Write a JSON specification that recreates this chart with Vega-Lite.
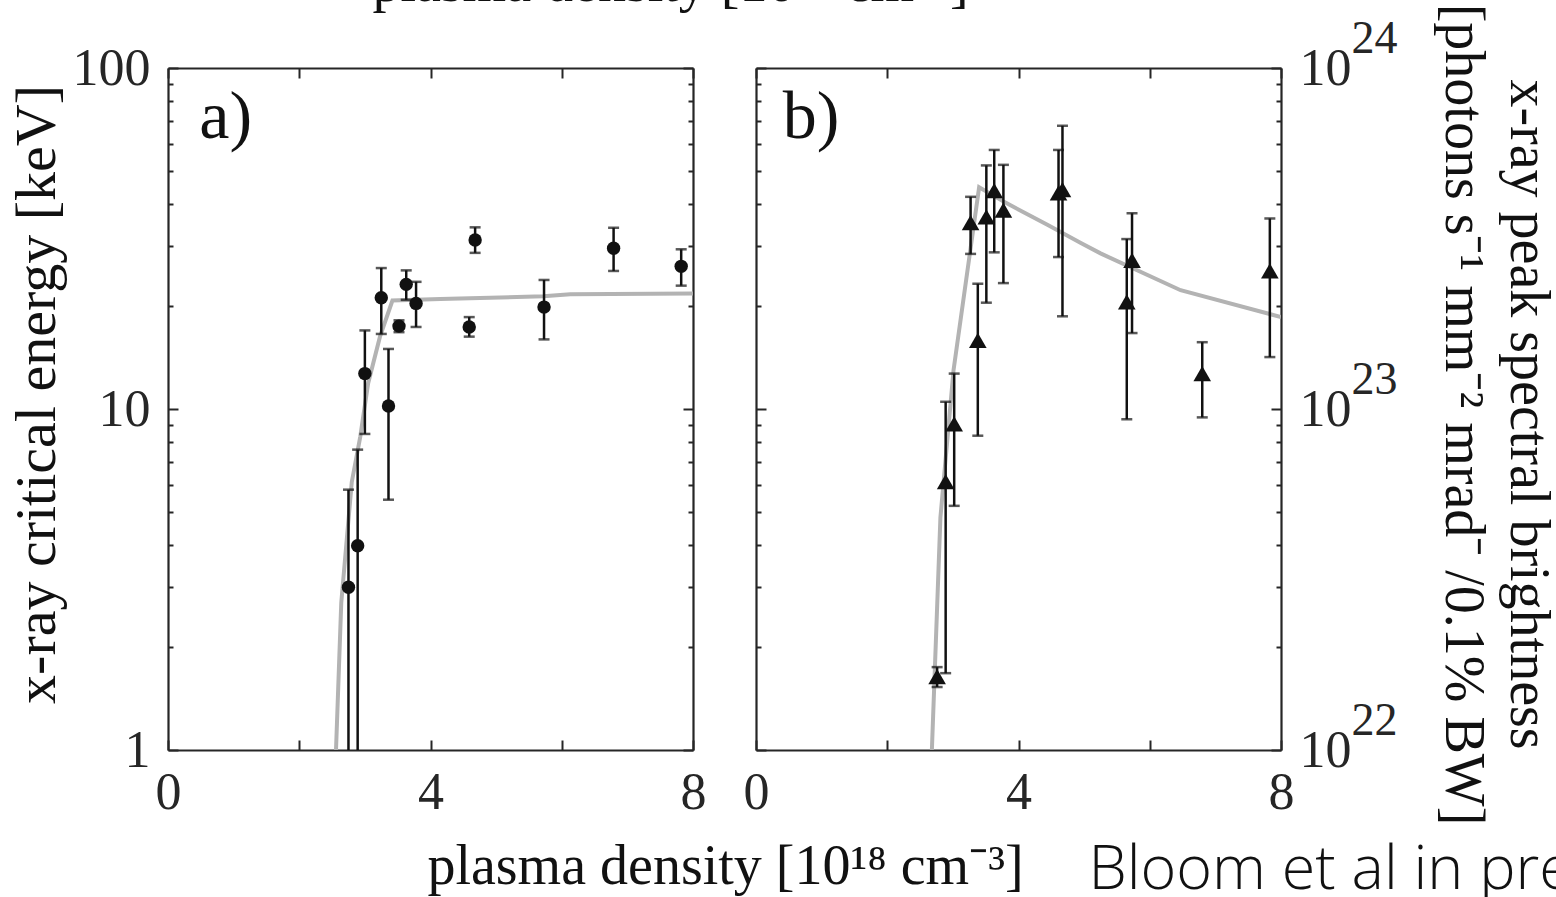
{
  "$schema": "https://vega.github.io/schema/vega-lite/v6.json",
  "background": "white",
  "padding": {"left": 8, "top": -45, "right": 0, "bottom": 0},
  "bounds": "flush",
  "spacing": 63,
  "config": {
    "view": {"stroke": null},
    "axis": {
      "domainColor": "#262626", "domainWidth": 2.2, "tickColor": "#262626", "tickWidth": 2,
      "labelColor": "#262626", "labelFont": "Liberation Serif", "labelFontSize": 52,
      "titleColor": "#262626", "titleFont": "Liberation Serif", "titleFontSize": 56, "titleFontWeight": "normal",
      "grid": false, "labelOverlap": false, "labelFlush": false
    }
  },
  "datasets": {
    "lineA": [
      {"density": 2.56, "energy": 1.0}, {"density": 2.64, "energy": 2.7}, {"density": 2.80, "energy": 6.1},
      {"density": 2.93, "energy": 8.3}, {"density": 3.05, "energy": 11.9}, {"density": 3.23, "energy": 16.3},
      {"density": 3.42, "energy": 20.8}, {"density": 4.15, "energy": 21.0}, {"density": 4.45, "energy": 21.1},
      {"density": 5.72, "energy": 21.4}, {"density": 6.13, "energy": 21.7}, {"density": 8.0, "energy": 21.8}
    ],
    "ptsA": [
      {"density": 2.75, "energy": 3.0, "lo": 0.2, "hi": 5.8},
      {"density": 2.89, "energy": 3.97, "lo": 0.35, "hi": 7.6},
      {"density": 3.00, "energy": 12.7, "lo": 8.45, "hi": 17.0},
      {"density": 3.25, "energy": 21.2, "lo": 16.6, "hi": 25.9},
      {"density": 3.36, "energy": 10.2, "lo": 5.42, "hi": 15.0},
      {"density": 3.52, "energy": 17.5, "lo": 16.8, "hi": 18.2},
      {"density": 3.63, "energy": 23.2, "lo": 20.9, "hi": 25.5},
      {"density": 3.78, "energy": 20.4, "lo": 17.4, "hi": 23.6},
      {"density": 4.59, "energy": 17.4, "lo": 16.3, "hi": 18.6},
      {"density": 4.68, "energy": 31.3, "lo": 28.7, "hi": 34.1},
      {"density": 5.73, "energy": 19.9, "lo": 16.0, "hi": 23.9},
      {"density": 6.79, "energy": 29.6, "lo": 25.4, "hi": 34.0},
      {"density": 7.82, "energy": 26.2, "lo": 23.0, "hi": 29.4}
    ],
    "labelA": [{"label": "a)", "density": 0.88, "energy": 62.4}],
    "labelB": [{"label": "b)", "density": 0.84, "brightness": 6.24e23}],
    "lineB": [
      {"density": 2.68, "brightness": 1e22}, {"density": 2.81, "brightness": 4.8e22}, {"density": 3.01, "brightness": 1.3e23},
      {"density": 3.40, "brightness": 4.47e23}, {"density": 3.78, "brightness": 4.05e23}, {"density": 4.44, "brightness": 3.47e23},
      {"density": 4.95, "brightness": 3.07e23}, {"density": 5.25, "brightness": 2.86e23}, {"density": 6.47, "brightness": 2.23e23},
      {"density": 8.0, "brightness": 1.86e23}
    ],
    "ptsB": [
      {"density": 2.76, "brightness": 1.64e22, "lo": 1.53e22, "hi": 1.75e22},
      {"density": 2.89, "brightness": 6.12e22, "lo": 1.68e22, "hi": 1.05e23},
      {"density": 3.02, "brightness": 9.04e22, "lo": 5.2e22, "hi": 1.27e23},
      {"density": 3.27, "brightness": 3.52e23, "lo": 2.85e23, "hi": 4.19e23},
      {"density": 3.38, "brightness": 1.59e23, "lo": 8.35e22, "hi": 2.33e23},
      {"density": 3.51, "brightness": 3.66e23, "lo": 2.05e23, "hi": 5.18e23},
      {"density": 3.63, "brightness": 4.37e23, "lo": 2.88e23, "hi": 5.75e23},
      {"density": 3.77, "brightness": 3.83e23, "lo": 2.34e23, "hi": 5.2e23},
      {"density": 4.61, "brightness": 4.3e23, "lo": 2.79e23, "hi": 5.75e23},
      {"density": 4.67, "brightness": 4.4e23, "lo": 1.87e23, "hi": 6.77e23},
      {"density": 5.65, "brightness": 2.06e23, "lo": 9.33e22, "hi": 3.15e23},
      {"density": 5.73, "brightness": 2.73e23, "lo": 1.67e23, "hi": 3.75e23},
      {"density": 6.80, "brightness": 1.27e23, "lo": 9.45e22, "hi": 1.57e23},
      {"density": 7.83, "brightness": 2.54e23, "lo": 1.42e23, "hi": 3.62e23}
    ]
  },
  "hconcat": [
    {
      "width": 525, "height": 682,
      "resolve": {"scale": {"x": "shared", "y": "shared"}, "axis": {"x": "independent", "y": "independent"}},
      "layer": [
        {
          "data": {"name": "lineA"},
          "mark": {"type": "line", "color": "#b3b3b3", "strokeWidth": 4, "clip": true},
          "encoding": {
            "x": {"field": "density", "type": "quantitative", "scale": {"domain": [0, 8], "nice": false, "zero": false},
                  "axis": {"orient": "bottom", "values": [0, 2, 4, 6, 8], "tickSize": -10, "labelPadding": 27,
                           "labelExpr": "datum.value % 4 == 0 ? datum.label : ''",
                           "title": "plasma density [10¹⁸ cm⁻³]", "titleX": 557, "titleY": 133,
                           "titleBaseline": "alphabetic", "titleAlign": "center", "titleColor": "#111111"}},
            "y": {"field": "energy", "type": "quantitative", "scale": {"type": "log", "domain": [1, 100], "nice": false},
                  "axis": {"orient": "left", "values": [1, 10, 100], "tickSize": -10, "labelPadding": 28, "format": "d",
                           "title": "x-ray critical energy [keV]", "titlePadding": 6, "titleY": 326, "titleFontSize": 58, "titleColor": "#111111"}}
          }
        },
        {
          "data": {"name": "ptsA"},
          "mark": {"type": "rule", "color": "#111111", "strokeWidth": 2.5, "clip": true},
          "encoding": {
            "x": {"field": "density", "type": "quantitative", "scale": {"domain": [0, 8], "nice": false, "zero": false},
                  "axis": {"orient": "top", "values": [0, 2, 4, 6, 8], "tickSize": -10, "labels": false,
                           "title": "plasma density [10¹⁸ cm⁻³]", "titleX": 502, "titleY": -68,
                           "titleBaseline": "alphabetic", "titleAlign": "center", "titleColor": "#111111"}},
            "y": {"field": "lo", "type": "quantitative", "scale": {"type": "log", "domain": [1, 100], "nice": false},
                  "axis": {"orient": "right", "values": [1, 10, 100], "tickSize": -10, "labels": false, "title": null}},
            "y2": {"field": "hi"}
          }
        },
        {
          "data": {"name": "ptsA"},
          "mark": {"type": "tick", "orient": "horizontal", "color": "#111111", "size": 11, "thickness": 2.5, "clip": true},
          "encoding": {
            "x": {"field": "density", "type": "quantitative", "scale": {"domain": [0, 8], "nice": false, "zero": false}, "axis": null},
            "y": {"field": "lo", "type": "quantitative", "scale": {"type": "log", "domain": [1, 100], "nice": false},
                  "axis": {"orient": "left", "values": [2, 3, 4, 5, 6, 7, 8, 9, 20, 30, 40, 50, 60, 70, 80, 90], "tickSize": -5, "labels": false, "domain": false, "title": null}}
          }
        },
        {
          "data": {"name": "ptsA"},
          "mark": {"type": "tick", "orient": "horizontal", "color": "#111111", "size": 11, "thickness": 2.5, "clip": true},
          "encoding": {
            "x": {"field": "density", "type": "quantitative", "scale": {"domain": [0, 8], "nice": false, "zero": false}, "axis": null},
            "y": {"field": "hi", "type": "quantitative", "scale": {"type": "log", "domain": [1, 100], "nice": false},
                  "axis": {"orient": "right", "values": [2, 3, 4, 5, 6, 7, 8, 9, 20, 30, 40, 50, 60, 70, 80, 90], "tickSize": -5, "labels": false, "domain": false, "title": null}}
          }
        },
        {
          "data": {"name": "ptsA"},
          "mark": {"type": "point", "shape": "circle", "filled": true, "color": "#111111", "opacity": 1, "size": 180, "clip": true},
          "encoding": {
            "x": {"field": "density", "type": "quantitative", "scale": {"domain": [0, 8], "nice": false, "zero": false}, "axis": null},
            "y": {"field": "energy", "type": "quantitative", "scale": {"type": "log", "domain": [1, 100], "nice": false}, "axis": null}
          }
        },
        {
          "data": {"name": "labelA"},
          "mark": {"type": "text", "font": "Liberation Serif", "fontSize": 68, "color": "#111111", "align": "center", "baseline": "alphabetic"},
          "encoding": {
            "x": {"field": "density", "type": "quantitative", "scale": {"domain": [0, 8], "nice": false, "zero": false}, "axis": null},
            "y": {"field": "energy", "type": "quantitative", "scale": {"type": "log", "domain": [1, 100], "nice": false}, "axis": null},
            "text": {"field": "label"}
          }
        }
      ]
    },
    {
      "width": 525, "height": 682,
      "resolve": {"scale": {"x": "shared", "y": "shared"}, "axis": {"x": "independent", "y": "independent"}},
      "layer": [
        {
          "data": {"name": "lineB"},
          "mark": {"type": "line", "color": "#b3b3b3", "strokeWidth": 4, "clip": true},
          "encoding": {
            "x": {"field": "density", "type": "quantitative", "scale": {"domain": [0, 8], "nice": false, "zero": false},
                  "axis": {"orient": "bottom", "values": [0, 2, 4, 6, 8], "tickSize": -10, "labelPadding": 27,
                           "labelExpr": "datum.value % 4 == 0 ? datum.label : ''",
                           "title": "Bloom et al in press", "titleFont": "Open Sans", "titleFontWeight": 300, "titleFontSize": 61,
                           "titleX": 332, "titleY": 138, "titleBaseline": "alphabetic", "titleAlign": "left", "titleColor": "#111111"}},
            "y": {"field": "brightness", "type": "quantitative", "scale": {"type": "log", "domain": [1e22, 1e24], "nice": false},
                  "axis": {"orient": "right", "values": [1e22, 1e23, 1e24], "tickSize": -10, "labelPadding": 28, "labelExpr": "'10'", "title": null}}
          }
        },
        {
          "data": {"name": "ptsB"},
          "mark": {"type": "rule", "color": "#111111", "strokeWidth": 2.5, "clip": true},
          "encoding": {
            "x": {"field": "density", "type": "quantitative", "scale": {"domain": [0, 8], "nice": false, "zero": false},
                  "axis": {"orient": "top", "values": [0, 2, 4, 6, 8], "tickSize": -10, "labels": false, "title": null}},
            "y": {"field": "lo", "type": "quantitative", "scale": {"type": "log", "domain": [1e22, 1e24], "nice": false},
                  "axis": {"orient": "left", "values": [1e22, 1e23, 1e24], "tickSize": -10, "labels": false, "title": null}},
            "y2": {"field": "hi"}
          }
        },
        {
          "data": {"name": "ptsB"},
          "mark": {"type": "tick", "orient": "horizontal", "color": "#111111", "size": 11, "thickness": 2.5, "clip": true},
          "encoding": {
            "x": {"field": "density", "type": "quantitative", "scale": {"domain": [0, 8], "nice": false, "zero": false}, "axis": null},
            "y": {"field": "lo", "type": "quantitative", "scale": {"type": "log", "domain": [1e22, 1e24], "nice": false},
                  "axis": {"orient": "left", "values": [2e22, 3e22, 4e22, 5e22, 6e22, 7e22, 8e22, 9e22, 2e23, 3e23, 4e23, 5e23, 6e23, 7e23, 8e23, 9e23], "tickSize": -5, "labels": false, "domain": false, "title": null}}
          }
        },
        {
          "data": {"name": "ptsB"},
          "mark": {"type": "tick", "orient": "horizontal", "color": "#111111", "size": 11, "thickness": 2.5, "clip": true},
          "encoding": {
            "x": {"field": "density", "type": "quantitative", "scale": {"domain": [0, 8], "nice": false, "zero": false}, "axis": null},
            "y": {"field": "hi", "type": "quantitative", "scale": {"type": "log", "domain": [1e22, 1e24], "nice": false},
                  "axis": {"orient": "right", "values": [2e22, 3e22, 4e22, 5e22, 6e22, 7e22, 8e22, 9e22, 2e23, 3e23, 4e23, 5e23, 6e23, 7e23, 8e23, 9e23], "tickSize": -5, "labels": false, "domain": false, "title": null}}
          }
        },
        {
          "data": {"name": "ptsB"},
          "mark": {"type": "point", "shape": "triangle-up", "filled": true, "color": "#111111", "opacity": 1, "size": 310, "clip": true},
          "encoding": {
            "x": {"field": "density", "type": "quantitative", "scale": {"domain": [0, 8], "nice": false, "zero": false}, "axis": null},
            "y": {"field": "brightness", "type": "quantitative", "scale": {"type": "log", "domain": [1e22, 1e24], "nice": false},
                  "axis": {"orient": "right", "values": [1e22, 1e23, 1e24], "ticks": false, "domain": false, "labelPadding": 70, "labelOffset": -30,
                           "labelFontSize": 46, "labelExpr": "'' + round(log(datum.value) / LN10)",
                           "title": ["x-ray peak spectral brightness", "[photons s⁻¹ mm⁻² mrad⁻ /0.1% BW]"],
                           "titlePadding": 36, "titleY": 346, "titleLineHeight": 65, "titleColor": "#111111"}}
          }
        },
        {
          "data": {"name": "labelB"},
          "mark": {"type": "text", "font": "Liberation Serif", "fontSize": 68, "color": "#111111", "align": "center", "baseline": "alphabetic"},
          "encoding": {
            "x": {"field": "density", "type": "quantitative", "scale": {"domain": [0, 8], "nice": false, "zero": false}, "axis": null},
            "y": {"field": "brightness", "type": "quantitative", "scale": {"type": "log", "domain": [1e22, 1e24], "nice": false}, "axis": null},
            "text": {"field": "label"}
          }
        }
      ]
    }
  ]
}
